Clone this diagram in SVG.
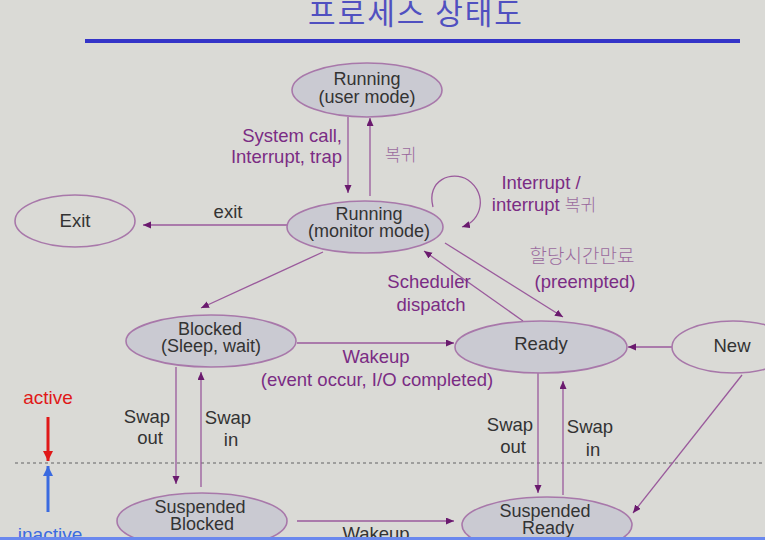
<svg xmlns="http://www.w3.org/2000/svg" width="765" height="540" viewBox="0 0 765 540">
<style>
.bg{fill:#dadad6}
.node{fill:#cacad2;stroke:#a878aa;stroke-width:1.6}
.node-open{fill:none;stroke:#a878aa;stroke-width:1.6}
.t{font-family:"Liberation Sans",Arial,sans-serif;font-size:18.5px;fill:#333}
.n{font-family:"Liberation Sans",Arial,sans-serif;font-size:18px;fill:#333}
.p{font-family:"Liberation Sans","Noto Sans CJK KR",Arial,sans-serif;font-size:18.5px;fill:#7a2c84}
.k{font-family:"Noto Sans CJK KR",sans-serif;font-size:17px;fill:#9a6a9e;font-weight:300}
.c{fill:none;stroke:#9a5a9c;stroke-width:1.3}
</style>
<defs>
<marker id="ah" markerUnits="userSpaceOnUse" markerWidth="9" markerHeight="8" refX="8" refY="3.5" orient="auto">
<path d="M0,0 L8,3.5 L0,7 z" fill="#6a1a6e"/>
</marker>
<marker id="red" markerUnits="userSpaceOnUse" markerWidth="12" markerHeight="12" refX="10" refY="5" orient="auto">
<path d="M0,0 L10,5 L0,10 z" fill="#e01818"/>
</marker>
<marker id="blue" markerUnits="userSpaceOnUse" markerWidth="12" markerHeight="12" refX="10" refY="5" orient="auto">
<path d="M0,0 L10,5 L0,10 z" fill="#3a6ae0"/>
</marker>
</defs>
<rect class="bg" x="0" y="0" width="765" height="540"/>
<g id="title">
<text x="416" y="24" font-family="'Noto Sans CJK KR',sans-serif" font-size="30" letter-spacing="2" fill="#5050c0" text-anchor="middle">프로세스 상태도</text>
<line x1="85" y1="41" x2="740" y2="41" stroke="#3434c8" stroke-width="4"/>
</g>
<g id="divider">
<line x1="15" y1="463" x2="765" y2="463" stroke="#8a8a8a" stroke-width="1.3" stroke-dasharray="3,3"/>
<line x1="48" y1="417" x2="48" y2="461" stroke="#e01818" stroke-width="3" marker-end="url(#red)"/>
<line x1="48" y1="512" x2="48" y2="466" stroke="#3a6ae0" stroke-width="3" marker-end="url(#blue)"/>
<text x="48" y="404" font-family="'Liberation Sans',Arial,sans-serif" font-size="19" fill="#e01818" text-anchor="middle">active</text>
<text x="50" y="541" font-family="'Liberation Sans',Arial,sans-serif" font-size="19" fill="#3a6ae0" text-anchor="middle">inactive</text>
</g>
<g id="connectors">
<line class="c" x1="348" y1="117" x2="348" y2="193" marker-end="url(#ah)"/>
<line class="c" x1="370" y1="196" x2="370" y2="118" marker-end="url(#ah)"/>
<path class="c" d="M433,207 C426,180 452,170 468,180 C488,194 482,221 462,227" marker-end="url(#ah)"/>
<line class="c" x1="287" y1="225" x2="143" y2="225" marker-end="url(#ah)"/>
<line class="c" x1="323" y1="252" x2="201" y2="308" marker-end="url(#ah)"/>
<line class="c" x1="523" y1="321" x2="424" y2="251" marker-end="url(#ah)"/>
<line class="c" x1="445" y1="243" x2="563" y2="317" marker-end="url(#ah)"/>
<line class="c" x1="297" y1="343" x2="454" y2="343" marker-end="url(#ah)"/>
<line class="c" x1="672" y1="347" x2="628" y2="347" marker-end="url(#ah)"/>
<line class="c" x1="176" y1="367" x2="176" y2="484" marker-end="url(#ah)"/>
<line class="c" x1="201" y1="487" x2="201" y2="372" marker-end="url(#ah)"/>
<line class="c" x1="538" y1="373" x2="538" y2="493" marker-end="url(#ah)"/>
<line class="c" x1="563" y1="495" x2="563" y2="381" marker-end="url(#ah)"/>
<line class="c" x1="742" y1="375" x2="633" y2="513" marker-end="url(#ah)"/>
<line class="c" x1="297" y1="521" x2="454" y2="521" marker-end="url(#ah)"/>
</g>
<g id="labels">
<text class="p" x="342" y="142" text-anchor="end">System call,</text>
<text class="p" x="342" y="163" text-anchor="end">Interrupt, trap</text>
<text class="k" x="385" y="161">복귀</text>
<text class="p" x="541" y="189" text-anchor="middle">Interrupt /</text>
<text class="p" x="544" y="211" text-anchor="middle">interrupt <tspan font-family="'Noto Sans CJK KR',sans-serif" font-size="17" fill="#9a6a9e" font-weight="300">복귀</tspan></text>
<text class="k" x="582" y="263" text-anchor="middle" style="font-size:19px">할당시간만료</text>
<text class="p" x="585" y="288" text-anchor="middle">(preempted)</text>
<text class="p" x="429" y="288" text-anchor="middle">Scheduler</text>
<text class="p" x="431" y="311" text-anchor="middle">dispatch</text>
<text class="p" x="376" y="363" text-anchor="middle">Wakeup</text>
<text class="p" x="377" y="386" text-anchor="middle">(event occur, I/O completed)</text>
<text class="t" x="228" y="218" text-anchor="middle">exit</text>
<text class="t" x="147" y="423" text-anchor="middle">Swap</text>
<text class="t" x="150" y="444" text-anchor="middle">out</text>
<text class="t" x="228" y="424" text-anchor="middle">Swap</text>
<text class="t" x="231" y="446" text-anchor="middle">in</text>
<text class="t" x="510" y="431" text-anchor="middle">Swap</text>
<text class="t" x="513" y="453" text-anchor="middle">out</text>
<text class="t" x="590" y="433" text-anchor="middle">Swap</text>
<text class="t" x="593" y="456" text-anchor="middle">in</text>
<text class="t" x="376" y="540" text-anchor="middle">Wakeup</text>
</g>
<g id="running-user">
<ellipse class="node" cx="367" cy="90" rx="75" ry="27"/>
<text class="n" x="367" y="85" text-anchor="middle">Running</text>
<text class="n" x="367" y="103" text-anchor="middle">(user mode)</text>
</g>
<g id="running-monitor">
<ellipse class="node" cx="365" cy="227" rx="78" ry="26"/>
<text class="n" x="369" y="220" text-anchor="middle">Running</text>
<text class="n" x="369" y="237" text-anchor="middle">(monitor mode)</text>
</g>
<g id="exit">
<ellipse class="node-open" cx="75" cy="221" rx="60" ry="26"/>
<text class="t" x="75" y="227" text-anchor="middle">Exit</text>
</g>
<g id="blocked">
<ellipse class="node" cx="211" cy="341" rx="85" ry="26"/>
<text class="n" x="210" y="335" text-anchor="middle">Blocked</text>
<text class="n" x="211" y="352" text-anchor="middle">(Sleep, wait)</text>
</g>
<g id="ready">
<ellipse class="node" cx="541" cy="347" rx="86" ry="26"/>
<text class="t" x="541" y="350" text-anchor="middle">Ready</text>
</g>
<g id="new">
<ellipse class="node-open" cx="733" cy="347" rx="61" ry="26"/>
<text class="t" x="732" y="352" text-anchor="middle">New</text>
</g>
<g id="suspended-blocked">
<ellipse class="node" cx="202" cy="521" rx="85" ry="28"/>
<text class="n" x="200" y="513" text-anchor="middle">Suspended</text>
<text class="n" x="202" y="530" text-anchor="middle">Blocked</text>
</g>
<g id="suspended-ready">
<ellipse class="node" cx="547" cy="525" rx="85" ry="28"/>
<text class="n" x="545" y="517" text-anchor="middle">Suspended</text>
<text class="n" x="548" y="534" text-anchor="middle">Ready</text>
</g>
<rect x="0" y="537" width="765" height="3" fill="#6a88ee"/>
</svg>
